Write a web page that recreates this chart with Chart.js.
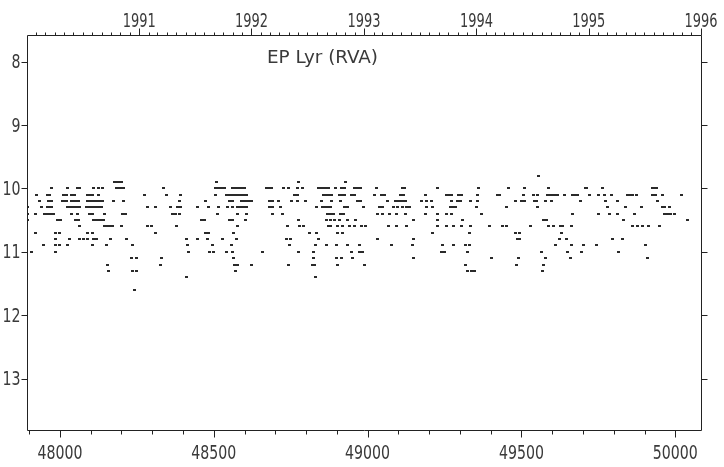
<!DOCTYPE html>
<html>
<head>
<meta charset="utf-8">
<title>EP Lyr (RVA)</title>
<script src="https://cdn.jsdelivr.net/npm/chart.js@4.4.0/dist/chart.umd.min.js"></script>
<style>
  html, body { margin: 0; padding: 0; background: #fff; }
  #wrap { width: 724px; height: 467px; }
</style>
</head>
<body>
<div id="wrap"><canvas id="lightCurve" width="724" height="467"></canvas></div>
<script>
// Light curve of EP Lyr, visual estimates (RVA), JD - 2400000 vs magnitude

// magnitude rows (estimates are rounded to 0.1 mag)
const magRows = [9.8, 9.9, 10.0, 10.1, 10.2, 10.3, 10.4, 10.5, 10.6, 10.7, 10.8, 10.9, 11.0, 11.1, 11.2, 11.3, 11.4, 11.6];

// JD - 2400000 of each estimate, one array per magnitude row
const jd098 = [49555];
const jd099 = [48176, 48184, 48192, 48200, 48510, 48776, 48928];
const jd100 = [47971, 48026, 48056, 48063, 48110, 48126, 48139, 48184, 48192, 48200, 48208, 48337, 48507, 48514, 48521, 48528, 48535, 48562, 48571, 48581, 48591, 48600, 48672, 48680, 48688, 48727, 48743, 48773, 48789, 48841, 48849, 48857, 48865, 48873, 48896, 48916, 48925, 48958, 48967, 48977, 49029, 49114, 49121, 49227, 49360, 49458, 49510, 49588, 49708, 49712, 49763, 49925, 49930, 49938];
const jd101 = [47925, 47958, 47967, 48010, 48020, 48039, 48048, 48091, 48099, 48107, 48126, 48276, 48347, 48393, 48506, 48542, 48550, 48558, 48562, 48569, 48576, 48584, 48592, 48600, 48607, 48763, 48771, 48857, 48865, 48873, 48881, 48909, 48917, 48926, 48948, 48958, 49023, 49045, 49054, 49107, 49116, 49188, 49256, 49264, 49273, 49295, 49305, 49357, 49422, 49430, 49506, 49540, 49552, 49585, 49593, 49601, 49609, 49617, 49640, 49666, 49674, 49683, 49721, 49750, 49769, 49792, 49844, 49852, 49860, 49873, 49925, 49935, 49958, 50019];
const jd102 = [47932, 47964, 47974, 48008, 48015, 48022, 48037, 48045, 48053, 48060, 48090, 48097, 48104, 48111, 48118, 48125, 48132, 48139, 48175, 48208, 48390, 48474, 48550, 48560, 48591, 48599, 48607, 48615, 48624, 48680, 48690, 48711, 48753, 48773, 48799, 48851, 48883, 48912, 48967, 48977, 49065, 49091, 49099, 49107, 49115, 49123, 49175, 49191, 49208, 49273, 49292, 49302, 49334, 49357, 49480, 49500, 49510, 49542, 49549, 49578, 49597, 49691, 49773, 49812, 49942];
const jd103 = [47896, 47941, 47958, 47966, 47974, 48026, 48034, 48042, 48050, 48058, 48065, 48086, 48093, 48100, 48107, 48114, 48121, 48128, 48135, 48286, 48312, 48360, 48383, 48393, 48448, 48484, 48516, 48545, 48562, 48578, 48588, 48597, 48607, 48680, 48690, 48717, 48834, 48854, 48862, 48870, 48880, 48925, 48935, 48987, 49039, 49049, 49085, 49097, 49114, 49125, 49136, 49191, 49211, 49270, 49278, 49287, 49354, 49451, 49552, 49779, 49838, 49890, 49958, 49966, 49980];
const jd104 = [47896, 47922, 47951, 47960, 47969, 47978, 48036, 48058, 48097, 48107, 48146, 48204, 48214, 48367, 48377, 48389, 48513, 48578, 48607, 48691, 48724, 48870, 48880, 48890, 48912, 48922, 49032, 49049, 49071, 49094, 49123, 49188, 49227, 49257, 49273, 49370, 49666, 49750, 49786, 49812, 49867, 49964, 49974, 49984, 49997];
const jd105 = [47896, 47993, 48003, 48052, 48060, 48110, 48118, 48126, 48135, 48143, 48461, 48471, 48552, 48562, 48604, 48776, 48867, 48880, 48893, 48909, 48935, 48961, 49149, 49227, 49308, 49572, 49581, 49831, 50039];
const jd106 = [48065, 48146, 48154, 48162, 48170, 48201, 48286, 48298, 48380, 48578, 48740, 48779, 48792, 48873, 48880, 48902, 48919, 48941, 48958, 48980, 48993, 49068, 49094, 49127, 49227, 49256, 49279, 49305, 49334, 49396, 49438, 49451, 49529, 49588, 49604, 49627, 49633, 49662, 49860, 49876, 49893, 49912, 49948];
const jd107 = [47919, 47984, 47997, 48091, 48107, 48312, 48474, 48484, 48565, 48812, 48834, 48902, 48919, 49211, 49331, 49480, 49493, 49630];
const jd108 = [47987, 48032, 48065, 48075, 48088, 48110, 48120, 48165, 48217, 48412, 48448, 48480, 48529, 48575, 48737, 48750, 48841, 49032, 49149, 49487, 49493, 49623, 49646, 49795, 49828];
const jd109 = [47948, 47987, 48000, 48026, 48107, 48152, 48237, 48415, 48497, 48558, 48747, 48831, 48867, 48899, 48935, 48974, 49078, 49146, 49243, 49279, 49318, 49331, 49610, 49662, 49701, 49743, 49903];
const jd110 = [47909, 47987, 48419, 48487, 48500, 48542, 48562, 48659, 48776, 48825, 48948, 48974, 48984, 49240, 49250, 49325, 49565, 49649, 49695, 49815];
const jd111 = [48234, 48250, 48331, 48565, 48825, 48899, 48915, 48951, 49149, 49403, 49490, 49578, 49659, 49909];
const jd112 = [48156, 48328, 48568, 48578, 48623, 48743, 48821, 48828, 48902, 48990, 49318, 49484, 49571];
const jd113 = [48159, 48237, 48250, 48571, 49325, 49337, 49348, 49568];
const jd114 = [48412, 48831];
const jd116 = [48243];

const rowJd = [jd098, jd099, jd100, jd101, jd102, jd103, jd104, jd105, jd106, jd107, jd108, jd109, jd110, jd111, jd112, jd113, jd114, jd116];

// axis ranges and tick labels
const jdMin = 47893;
const jdMax = 50083.5;   // 1996 Jan 1
const magMin = 7.58;
const magMax = 13.81;
const jdLabels = [48000, 48500, 49000, 49500, 50000];
const magLabels = [8, 9, 10, 11, 12, 13];
const yearLabels = [1991, 1992, 1993, 1994, 1995, 1996];

const INK = '#222';
const TEXT_INK = '#3a3a3a';
const FONT = '"Liberation Sans Narrow", "DejaVu Sans Condensed", "Arial Narrow", sans-serif';

// build the scatter points
const points = [];
magRows.forEach((m, i) => {
  rowJd[i].forEach(jd => points.push({ x: jd, y: m }));
});

// small dash used as the point marker
const dot = document.createElement('canvas');
dot.width = 3;
dot.height = 2;
const dctx = dot.getContext('2d');
dctx.fillStyle = '#2a2a2a';
dctx.fillRect(0, 0, 3, 2);

// JD - 2400000 of a calendar date
function jdOf(year, month) {
  return Date.UTC(year, month, 1) / 86400000 + 40587.5;
}

// draw text squeezed horizontally to a given width
function fitText(ctx, text, x, y, align, width) {
  ctx.save();
  const w = ctx.measureText(text).width;
  const k = width / w;
  ctx.translate(x, y);
  ctx.scale(k, 1);
  ctx.textAlign = align;
  ctx.fillText(text, 0, 0);
  ctx.restore();
}

// draws the frame, tick marks, tick labels, year axis and title
const framePlugin = {
  id: 'frame',
  afterDraw(chart) {
    const ctx = chart.ctx;
    const area = chart.chartArea;
    const xs = chart.scales.x;
    const ys = chart.scales.y;
    const L = Math.round(area.left) + 0.5;
    const R = Math.round(area.right) + 0.5;
    const T = Math.round(area.top) + 0.5;
    const B = Math.round(area.bottom) + 0.5;

    ctx.save();
    ctx.strokeStyle = INK;
    ctx.lineWidth = 1;

    // frame
    ctx.beginPath();
    ctx.rect(L, T, R - L, B - T);
    ctx.stroke();

    // bottom ticks every 100 days
    ctx.beginPath();
    for (let v = Math.ceil(jdMin / 100) * 100; v <= jdMax; v += 100) {
      const px = Math.round(xs.getPixelForValue(v)) + 0.5;
      const len = v % 500 === 0 ? 7 : 4;
      ctx.moveTo(px, B);
      ctx.lineTo(px, B + len);
    }
    // left and right ticks
    magLabels.forEach(m => {
      const py = Math.round(ys.getPixelForValue(m)) + 0.5;
      ctx.moveTo(L, py);
      ctx.lineTo(L - 6, py);
      ctx.moveTo(R, py);
      ctx.lineTo(R + 6, py);
    });
    // top ticks: months, longer at each new year
    for (let y = 1990; y <= 1996; y++) {
      for (let mo = 0; mo < 12; mo++) {
        const jd = jdOf(y, mo);
        if (jd < jdMin || jd > jdMax + 0.01) continue;
        const px = Math.round(xs.getPixelForValue(jd)) + 0.5;
        const len = mo === 0 ? 7 : 3;
        ctx.moveTo(px, T);
        ctx.lineTo(px, T - len);
      }
    }
    ctx.stroke();

    ctx.fillStyle = TEXT_INK;
    ctx.font = '19px ' + FONT;
    ctx.textBaseline = 'alphabetic';

    jdLabels.forEach(v => {
      const px = xs.getPixelForValue(v);
      fitText(ctx, String(v), px, B + 28, 'center', 45);
    });
    magLabels.forEach(m => {
      const py = ys.getPixelForValue(m);
      const s = String(m);
      fitText(ctx, s, L - 7, py + 6.5, 'right', 9 * s.length);
    });
    yearLabels.forEach(y => {
      const px = xs.getPixelForValue(jdOf(y, 0));
      fitText(ctx, String(y), px, T - 9, 'center', 33);
    });

    // star name inside the plot
    ctx.font = '18px ' + FONT;
    fitText(ctx, 'EP Lyr (RVA)', 267, 63, 'left', 111);

    ctx.restore();
  }
};

const lightCurve = new Chart(document.getElementById('lightCurve'), {
  type: 'scatter',
  data: {
    datasets: [{
      label: 'EP Lyr',
      data: points,
      pointStyle: dot,
      pointRadius: 2,
      pointHoverRadius: 2,
      backgroundColor: INK,
      borderColor: INK,
    }],
  },
  options: {
    responsive: false,
    animation: false,
    devicePixelRatio: 1,
    layout: {
      padding: { left: 27, right: 23, top: 35, bottom: 37 },
    },
    plugins: {
      legend: { display: false },
      tooltip: { enabled: false },
    },
    scales: {
      x: { type: 'linear', display: false, min: jdMin, max: jdMax },
      y: { type: 'linear', display: false, reverse: true, min: magMin, max: magMax },
    },
  },
  plugins: [framePlugin],
});
</script>
</body>
</html>
